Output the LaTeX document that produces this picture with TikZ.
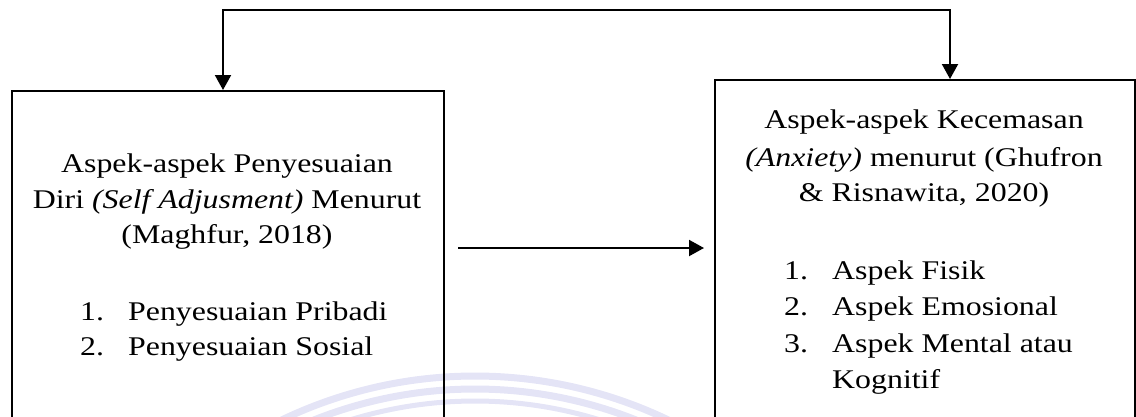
\documentclass[tikz,border=0pt]{standalone}
\usepackage{fontspec}
\setmainfont{Liberation Serif}[FakeStretch=1.18]
\usetikzlibrary{arrows.meta,calc}

\definecolor{wmark}{RGB}{228,228,246}

\begin{document}
\begin{tikzpicture}[x=1pt,y=-1pt,
  boxframe/.style={draw, line width=2pt, inner sep=0pt, anchor=north west},
  txt/.style={inner sep=0pt, anchor=base, font=\fontsize{27}{35}\selectfont},
  txtl/.style={txt, anchor=base west},
  tip/.tip={Triangle[length=15pt,width=16pt]},
  link/.style={line width=2pt, -tip},
  twoway/.style={line width=2pt, tip-tip},
  wm/.style={draw=wmark, line width=7pt},
]
\useasboundingbox (0,0) rectangle (1136,416);
\clip (0,0) rectangle (1136,416);

% faint watermark arcs along the lower edge
\coordinate (wc) at (475,823);
\draw[wm] (wc) ++(235:447) arc[start angle=235, end angle=305, radius=447];
\draw[wm] (wc) ++(235:434) arc[start angle=235, end angle=305, radius=434];
\draw[wm, line width=5pt] (wc) ++(235:422) arc[start angle=235, end angle=305, radius=422];

% the two boxes (they run on below the lower edge)
\node[boxframe, minimum width=432pt, minimum height=360pt] (self) at (11,90) {};
\node[boxframe, minimum width=420pt, minimum height=370pt] (anx) at (714,79) {};

% left box: self adjustment
\node[txt] (s1) at (227,172) {Aspek-aspek Penyesuaian};
\node[txt] (s2) at (227,208) {Diri \textit{(Self Adjusment)} Menurut};
\node[txt] (s3) at (227,243) {(Maghfur, 2018)};
\node[txtl] (sn1) at (80,320) {1.};
\node[txtl] (si1) at (128,320) {Penyesuaian Pribadi};
\node[txtl] (sn2) at (80,355) {2.};
\node[txtl] (si2) at (128,355) {Penyesuaian Sosial};

% right box: anxiety
\node[txt] (a1) at (924,128) {Aspek-aspek Kecemasan};
\node[txt] (a2) at (924,166) {\textit{(Anxiety)} menurut (Ghufron};
\node[txt] (a3) at (924,201) {\& Risnawita, 2020)};
\node[txtl] (an1) at (784,279) {1.};
\node[txtl] (ai1) at (832,279) {Aspek Fisik};
\node[txtl] (an2) at (784,315) {2.};
\node[txtl] (ai2) at (832,315) {Aspek Emosional};
\node[txtl] (an3) at (784,352) {3.};
\node[txtl] (ai3) at (832,352) {Aspek Mental atau};
\node[txtl] (ai3b) at (832,388) {Kognitif};

% connectors
\coordinate (tl) at (223,10);
\coordinate (tr) at (950,10);
\coordinate (hy) at (0,248);
\draw[twoway] (tl |- self.north) -- (tl) -- (tr) -- (tr |- anx.north);
\draw[link] ($(self.east |- hy)+(13,0)$) -- ($(anx.west |- hy)+(-10,0)$);
\end{tikzpicture}
\end{document}
